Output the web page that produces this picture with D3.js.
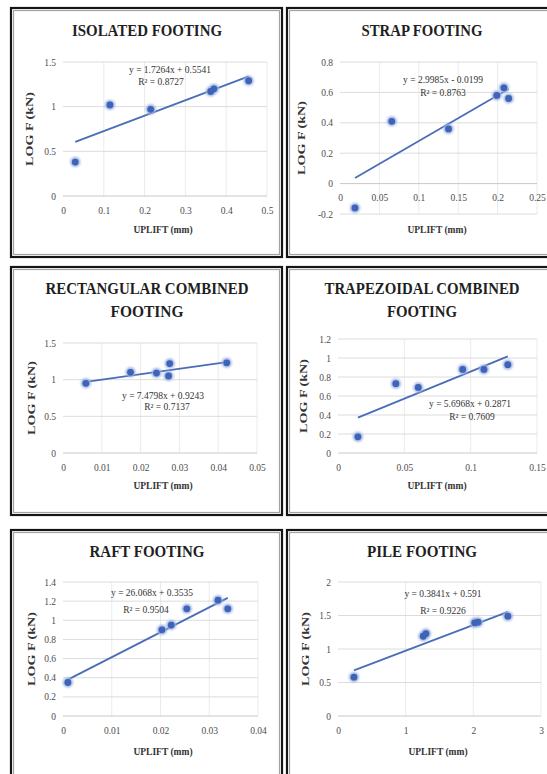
<!DOCTYPE html>
<html><head><meta charset="utf-8">
<script src="https://cdn.jsdelivr.net/npm/d3@7"></script>
<style>html,body{margin:0;padding:0;background:#fff;} svg{display:block;}</style>
</head><body>
<svg id="c" width="547" height="774"></svg>
<script>
// ---------------- DATA ----------------
const titles = [["ISOLATED FOOTING"], ["STRAP FOOTING"], ["RECTANGULAR COMBINED", "FOOTING"],
                ["TRAPEZOIDAL COMBINED", "FOOTING"], ["RAFT FOOTING"], ["PILE FOOTING"]];
const xAxisTitle = "UPLIFT (mm)";
const yAxisTitle = "LOG F (kN)";

const isolatedX = [0.03, 0.115, 0.215, 0.362, 0.37, 0.455];
const isolatedY = [0.38, 1.02, 0.97, 1.17, 1.2, 1.29];
const strapX = [0.019, 0.0657, 0.1377, 0.199, 0.208, 0.214];
const strapY = [-0.16, 0.41, 0.36, 0.58, 0.63, 0.56];
const rectX = [0.0059, 0.0174, 0.0241, 0.0272, 0.0275, 0.0422];
const rectY = [0.95, 1.1, 1.09, 1.05, 1.22, 1.23];
const trapX = [0.015, 0.0436, 0.0605, 0.094, 0.110, 0.128];
const trapY = [0.17, 0.73, 0.69, 0.88, 0.88, 0.93];
const raftX = [0.001, 0.0203, 0.0222, 0.0254, 0.0318, 0.0338];
const raftY = [0.35, 0.9, 0.95, 1.12, 1.21, 1.12];
const pileX = [0.236, 1.26, 1.30, 2.02, 2.07, 2.51];
const pileY = [0.58, 1.19, 1.23, 1.39, 1.4, 1.49];

const slopes = [1.7264, 2.9985, 7.4798, 5.6968, 26.068, 0.3841];
const intercepts = [0.5541, -0.0199, 0.9243, 0.2871, 0.3535, 0.591];
const equations = ["y = 1.7264x + 0.5541", "y = 2.9985x - 0.0199", "y = 7.4798x + 0.9243",
                   "y = 5.6968x + 0.2871", "y = 26.068x + 0.3535", "y = 0.3841x + 0.591"];
const rSquared = ["R² = 0.8727", "R² = 0.8763", "R² = 0.7137", "R² = 0.7609", "R² = 0.9504", "R² = 0.9226"];

const isolatedXTicks = [0, 0.1, 0.2, 0.3, 0.4, 0.5];
const isolatedYTicks = [0, 0.5, 1, 1.5];
const strapXTicks = [0, 0.05, 0.1, 0.15, 0.2, 0.25];
const strapYTicks = [-0.2, 0, 0.2, 0.4, 0.6, 0.8];
const rectXTicks = [0, 0.01, 0.02, 0.03, 0.04, 0.05];
const rectYTicks = [0, 0.5, 1, 1.5];
const trapXTicks = [0, 0.05, 0.1, 0.15];
const trapYTicks = [0, 0.2, 0.4, 0.6, 0.8, 1, 1.2];
const raftXTicks = [0, 0.01, 0.02, 0.03, 0.04];
const raftYTicks = [0, 0.2, 0.4, 0.6, 0.8, 1, 1.2, 1.4];
const pileXTicks = [0, 1, 2, 3];
const pileYTicks = [0, 0.5, 1, 1.5, 2];

// ---------------- LAYOUT ----------------
const xsets = [isolatedX, strapX, rectX, trapX, raftX, pileX];
const ysets = [isolatedY, strapY, rectY, trapY, raftY, pileY];
const xticks = [isolatedXTicks, strapXTicks, rectXTicks, trapXTicks, raftXTicks, pileXTicks];
const yticks = [isolatedYTicks, strapYTicks, rectYTicks, trapYTicks, raftYTicks, pileYTicks];

const boxes = [
  [11, 8, 282, 257], [287, 8, 560, 257],
  [11, 267, 282, 515], [287, 267, 560, 515],
  [11, 530, 282, 800], [287, 530, 560, 800]
];
const plots = [
  [63, 267, 62, 196], [340, 537, 62, 214],
  [63, 257, 343, 453], [338, 537, 339, 453],
  [63, 258, 582, 716], [338, 541, 582, 716]
];
const titleY = [[32], [32], [290, 313], [290, 313], [553], [553]];
const titleX = [147, 422, 147, 422, 147, 422];
const titleW = [[150], [121], [203, 73], [195, 70], [115], [110]];
const xTitleY = [231, 231, 487, 487, 753, 753];
const xTitleX = [163, 437, 163, 437, 163, 438];
const yTitleX = [31, 303, 33, 305, 33, 307];
const eqPos = [[170, 71, 161, 83], [443, 81, 443, 94], [163, 397, 167, 408],
               [470, 405, 472, 418], [152, 594, 146, 611], [443, 595, 443, 612]];

const svg = d3.select("#c");
const defs = svg.append("defs");
const f = defs.append("filter").attr("id", "glow").attr("x", "-50%").attr("y", "-50%").attr("width", "200%").attr("height", "200%");
f.append("feGaussianBlur").attr("stdDeviation", 1.2);

const serif = "'Liberation Serif', 'Times New Roman', serif";
const fmt = d => String(d);

for (let i = 0; i < 6; i++) {
  const [bx0, by0, bx1, by1] = boxes[i];
  svg.append("rect").attr("x", bx0).attr("y", by0).attr("width", bx1 - bx0).attr("height", by1 - by0)
    .attr("fill", "none").attr("stroke", "#151515").attr("stroke-width", 2.2);
  svg.append("rect").attr("x", bx0 + 2.6).attr("y", by0 + 2.6).attr("width", bx1 - bx0 - 5.2).attr("height", by1 - by0 - 5.2)
    .attr("fill", "none").attr("stroke", "#9a9a9a").attr("stroke-width", 1);

  const [l, r, t, b] = plots[i];
  const xt = xticks[i], yt = yticks[i];
  const x = d3.scaleLinear().domain([xt[0], xt[xt.length - 1]]).range([l, r]);
  const y = d3.scaleLinear().domain([yt[0], yt[yt.length - 1]]).range([b, t]);
  const g = svg.append("g");

  g.append("g").selectAll("line").data(xt.slice(1)).join("line")
    .attr("x1", d => x(d)).attr("x2", d => x(d)).attr("y1", t).attr("y2", b)
    .attr("stroke", "#ebebeb").attr("stroke-width", 1);
  g.append("g").selectAll("line").data(yt).join("line")
    .attr("x1", l).attr("x2", r).attr("y1", d => y(d)).attr("y2", d => y(d))
    .attr("stroke", d => d === 0 ? "#c8c8c8" : "#dcdcdc").attr("stroke-width", 1);

  const axisY0 = y(0);
  const xa = d3.axisBottom(x).tickValues(xt).tickSize(0).tickFormat(fmt).tickPadding(11);
  const gx = g.append("g").attr("transform", `translate(0,${axisY0})`).call(xa);
  gx.select(".domain").remove();
  gx.selectAll("text").attr("font-family", serif).attr("font-size", 9.5).attr("fill", "#4d4d4d");

  const ya = d3.axisLeft(y).tickValues(yt).tickSize(0).tickFormat(fmt).tickPadding(7);
  const gy = g.append("g").attr("transform", `translate(${l},0)`).call(ya);
  gy.select(".domain").remove();
  gy.selectAll("text").attr("font-family", serif).attr("font-size", 9.5).attr("fill", "#4d4d4d");

  const xs = xsets[i], ys = ysets[i];
  const xmin = d3.min(xs), xmax = d3.max(xs);
  const tl = [[xmin, slopes[i] * xmin + intercepts[i]], [xmax, slopes[i] * xmax + intercepts[i]]];
  g.append("path").attr("d", d3.line().x(d => x(d[0])).y(d => y(d[1]))(tl))
    .attr("stroke", "#4a6db8").attr("stroke-width", 1.8).attr("fill", "none");

  const pts = xs.map((v, k) => [v, ys[k]]);
  g.append("g").selectAll("circle").data(pts).join("circle")
    .attr("cx", d => x(d[0])).attr("cy", d => y(d[1])).attr("r", 5)
    .attr("fill", "#9db2e6").attr("filter", "url(#glow)");
  g.append("g").selectAll("circle").data(pts).join("circle")
    .attr("cx", d => x(d[0])).attr("cy", d => y(d[1])).attr("r", 3.4)
    .attr("fill", "#3f63b5");

  const [ex, ey, rx, ry] = eqPos[i];
  g.append("text").attr("x", ex).attr("y", ey).attr("text-anchor", "middle").attr("dominant-baseline", "middle")
    .attr("font-family", serif).attr("font-size", 9.5).attr("fill", "#333").text(equations[i]);
  g.append("text").attr("x", rx).attr("y", ry).attr("text-anchor", "middle").attr("dominant-baseline", "middle")
    .attr("font-family", serif).attr("font-size", 9.5).attr("fill", "#333").text(rSquared[i]);

  titles[i].forEach((s, k) => {
    svg.append("text").attr("x", titleX[i]).attr("y", titleY[i][k]).attr("text-anchor", "middle")
      .attr("dominant-baseline", "middle").attr("font-family", serif).attr("font-weight", "bold")
      .attr("font-size", 16).attr("fill", "#1f1f1f")
      .attr("textLength", titleW[i][k]).attr("lengthAdjust", "spacingAndGlyphs").text(s);
  });

  svg.append("text").attr("x", xTitleX[i]).attr("y", xTitleY[i]).attr("text-anchor", "middle")
    .attr("dominant-baseline", "middle").attr("font-family", serif).attr("font-weight", "bold")
    .attr("font-size", 9.5).attr("fill", "#333").text(xAxisTitle);
  const cy = (t + b) / 2;
  svg.append("text").attr("transform", `translate(${yTitleX[i]},${cy}) rotate(-90)`)
    .attr("text-anchor", "middle").attr("dominant-baseline", "middle").attr("font-family", serif)
    .attr("font-weight", "bold").attr("font-size", 10).attr("fill", "#333")
    .attr("textLength", 74).attr("lengthAdjust", "spacingAndGlyphs").text(yAxisTitle);
}
</script>
</body></html>
